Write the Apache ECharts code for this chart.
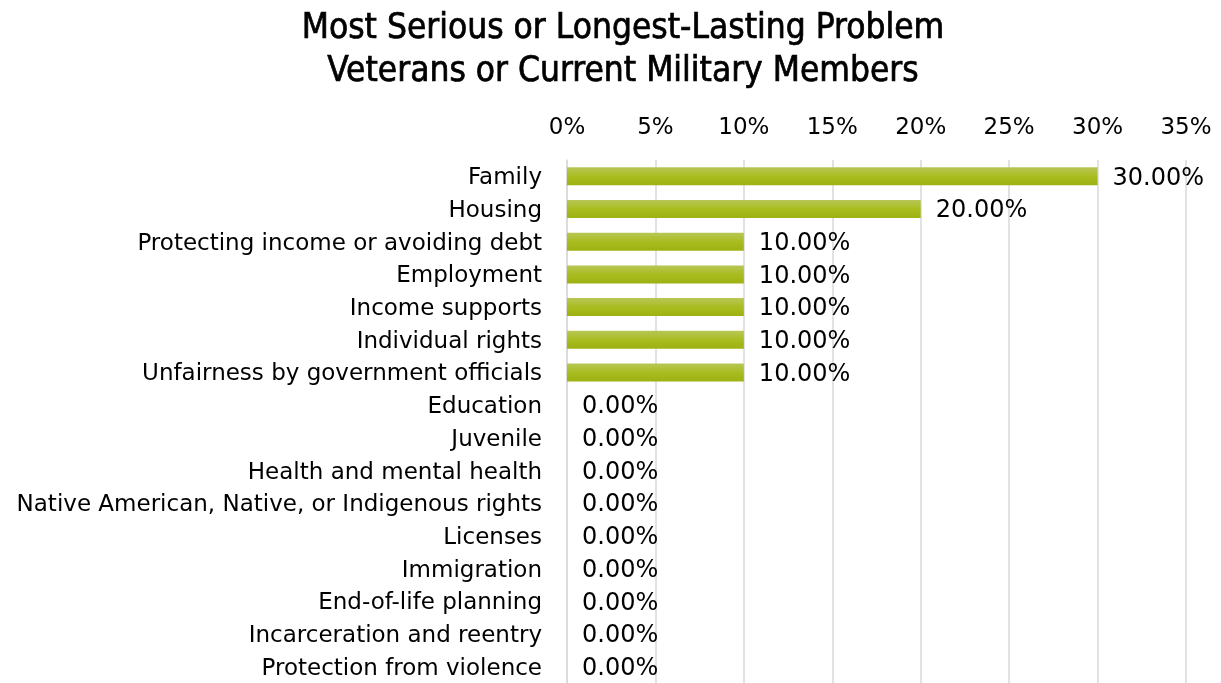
<!DOCTYPE html>
<html>
<head>
<meta charset="utf-8">
<script src="https://cdn.jsdelivr.net/npm/echarts@6/dist/echarts.min.js"></script>
<style>
  html, body { margin: 0; padding: 0; background: #ffffff; }
  #chart { width: 1221px; height: 683px; }
</style>
</head>
<body>
<div id="chart"></div>
<script>
// Problem areas, top to bottom
const categories = [
  'Family',
  'Housing',
  'Protecting income or avoiding debt',
  'Employment',
  'Income supports',
  'Individual rights',
  'Unfairness by government officials',
  'Education',
  'Juvenile',
  'Health and mental health',
  'Native American, Native, or Indigenous rights',
  'Licenses',
  'Immigration',
  'End-of-life planning',
  'Incarceration and reentry',
  'Protection from violence'
];

// Share of respondents, percent
const shares = [30, 20, 10, 10, 10, 10, 10, 0, 0, 0, 0, 0, 0, 0, 0, 0];

const axisTicks = [0, 5, 10, 15, 20, 25, 30, 35];

const titleLines = [
  'Most Serious or Longest-Lasting Problem',
  'Veterans or Current Military Members'
];

const textFont = '"DejaVu Sans", "Liberation Sans", sans-serif';

const chart = echarts.init(document.getElementById('chart'), null, { renderer: 'canvas' });

chart.setOption({
  backgroundColor: '#ffffff',
  animation: false,
  title: {
    text: titleLines.join('\n'),
    left: 618,
    textAlign: 'center',
    top: 2,
    textStyle: {
      fontFamily: '"Liberation Sans Narrow", "DejaVu Sans Condensed", sans-serif',
      fontSize: 35,
      fontWeight: 'normal',
      color: '#000000',
      textBorderColor: '#000000',
      textBorderWidth: 0.7,
      lineHeight: 43
    }
  },
  grid: {
    left: 567,
    top: 160,
    width: 619,
    height: 525,
    containLabel: false
  },
  xAxis: {
    type: 'value',
    position: 'top',
    min: axisTicks[0],
    max: axisTicks[axisTicks.length - 1],
    interval: axisTicks[1] - axisTicks[0],
    axisLine: { show: false },
    axisTick: { show: false },
    axisLabel: {
      margin: 20,
      fontFamily: textFont,
      fontSize: 23,
      color: '#000000',
      formatter: v => v + '%'
    },
    splitLine: { show: true, lineStyle: { color: '#d9d9d9', width: 1.5 } }
  },
  yAxis: {
    type: 'category',
    inverse: true,
    data: categories,
    axisLine: { show: true, lineStyle: { color: '#d9d9d9', width: 1.5 } },
    axisTick: { show: false },
    axisLabel: {
      margin: 25,
      fontFamily: textFont,
      fontSize: 23,
      color: '#000000',
      formatter: v => '{c|' + v + '}',
      rich: {
        c: {
          fontFamily: textFont,
          fontSize: 23,
          color: '#000000',
          padding: [4, 0, 0, 0]
        }
      }
    }
  },
  series: [{
    type: 'bar',
    data: shares,
    barWidth: 18,
    itemStyle: {
      color: new echarts.graphic.LinearGradient(0, 0, 0, 1, [
        { offset: 0, color: '#b8c656' },
        { offset: 0.5, color: '#a9bd20' },
        { offset: 1, color: '#9db112' }
      ])
    },
    label: {
      show: true,
      position: 'right',
      distance: 15,
      offset: [0, 2],
      fontFamily: textFont,
      fontSize: 24,
      color: '#000000',
      formatter: p => p.value.toFixed(2) + '%'
    }
  }]
});
</script>
</body>
</html>
